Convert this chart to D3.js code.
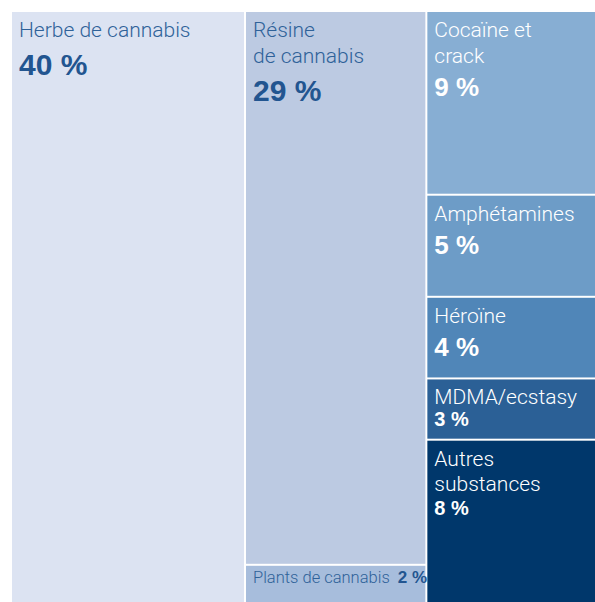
<!DOCTYPE html>
<html>
<head>
<meta charset="utf-8">
<script src="https://cdn.jsdelivr.net/npm/d3@7"></script>
<style>
  html, body { margin: 0; padding: 0; background: #ffffff; }
  svg { display: block; }
  text { font-family: "Roboto", "Liberation Sans", sans-serif; }
  .pct { font-family: "Liberation Sans", Arial, sans-serif; font-weight: 700; }
</style>
</head>
<body>
<svg id="chart" width="595" height="602"></svg>
<script>
// ---- data ----
const categories = ["Herbe de cannabis", "Résine de cannabis", "Plants de cannabis",
  "Cocaïne et crack", "Amphétamines", "Héroïne", "MDMA/ecstasy", "Autres substances"];
const values = [40, 29, 2, 9, 5, 4, 3, 8];
const groupOf = [0, 1, 1, 2, 2, 2, 2, 2];
const labelLines = [["Herbe de cannabis"], ["Résine", "de cannabis"], ["Plants de cannabis"],
  ["Cocaïne et", "crack"], ["Amphétamines"], ["Héroïne"], ["MDMA/ecstasy"], ["Autres", "substances"]];
const pctLabels = values.map(v => v + " %");

// ---- styles ----
const fills = ["#dce3f2", "#bccae2", "#a7bddc", "#87aed3", "#6d9cc7", "#5086b8", "#2b6096", "#00376b"];
const textColors = ["#2f6299", "#2f6299", "#2f6299", "#ffffff", "#ffffff", "#ffffff", "#ffffff", "#ffffff"];
const pctColors = ["#225590", "#225590", "#225590", "#ffffff", "#ffffff", "#ffffff", "#ffffff", "#ffffff"];
const pctSizes = [30, 30, 17, 26, 26, 26, 20, 20];
const inline = [false, false, true, false, false, false, false, false];

const margin = { left: 12, top: 12, right: 0, bottom: 0 };
const W = 595 - margin.left - margin.right;
const H = 602 - margin.top - margin.bottom;

const groupsData = d3.groups(categories.map((c, i) => ({ i, name: c, value: values[i] })), d => groupOf[d.i])
  .map(([g, items]) => ({ name: "g" + g, children: items }));

const root = d3.hierarchy({ name: "root", children: groupsData })
  .sum(d => d.children ? 0 : d.value);

d3.treemap()
  .tile(d3.treemapSliceDice)
  .size([W, H])
  .paddingInner(2)
  .round(false)(root);

const svg = d3.select("#chart");
const g = svg.append("g").attr("transform", `translate(${margin.left},${margin.top})`);

const leaves = g.selectAll("g.cell").data(root.leaves()).join("g")
  .attr("class", "cell")
  .attr("transform", d => `translate(${d.x0},${d.y0})`);

leaves.append("rect")
  .attr("width", d => d.x1 - d.x0)
  .attr("height", d => d.y1 - d.y0)
  .attr("fill", d => fills[d.data.i]);

leaves.each(function (d) {
  const i = d.data.i;
  const cell = d3.select(this);
  const pad = 7;
  const h = d.y1 - d.y0;
  if (inline[i]) {
    const t = cell.append("text")
      .attr("x", pad)
      .attr("y", 17)
      .attr("fill", textColors[i])
      .style("font-size", "16.5px")
      .style("font-weight", 300);
    t.append("tspan").text(labelLines[i][0]);
    t.append("tspan").attr("dx", 8)
      .attr("class", "pct")
      .style("font-size", pctSizes[i] + "px")
      .attr("fill", pctColors[i])
      .text(pctLabels[i]);
    return;
  }
  const lineH = 25.5;
  const first = 25;
  labelLines[i].forEach((ln, k) => {
    cell.append("text")
      .attr("x", pad)
      .attr("y", first + k * lineH)
      .attr("fill", textColors[i])
      .style("font-size", "21px")
      .style("font-weight", 300)
      .text(ln);
  });
  const last = first + (labelLines[i].length - 1) * lineH;
  const gap = pctSizes[i] >= 30 ? 38 : (pctSizes[i] >= 26 ? 33 : (h < 80 ? 22 : 24));
  cell.append("text")
    .attr("class", "pct")
    .attr("x", pad)
    .attr("y", last + gap)
    .attr("fill", pctColors[i])
    .style("font-size", pctSizes[i] + "px")
    .text(pctLabels[i]);
});
</script>
</body>
</html>
